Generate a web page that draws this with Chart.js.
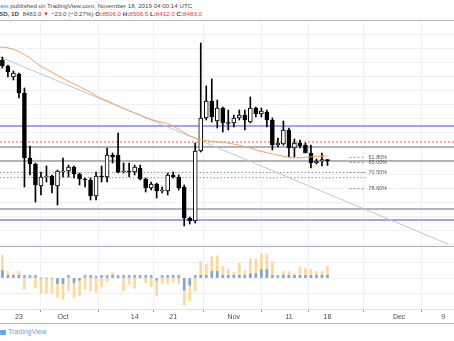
<!DOCTYPE html>
<html>
<head>
<meta charset="utf-8">
<script src="https://cdn.jsdelivr.net/npm/chart.js@4.4.1/dist/chart.umd.min.js"></script>
<style>
    body { margin: 0; background: #fff; width: 454px; height: 341px; overflow: hidden; position: relative; font-family: "Liberation Sans", "DejaVu Sans", sans-serif; }
    .hdr { position: absolute; left: 0; white-space: nowrap; font-size: 6.2px; color: #4a4a4a; line-height: 8px; }
    #hdr1 { top: 2px; }
    #hdr2 { top: 10px; left: -1px; }
    .blue { color: #2196f3; }
    .red { color: #e53935; }
    .line { position: absolute; left: 0; width: 454px; }
    canvas { position: absolute; left: 0; }
    #main { top: 21px; }
    #osc { top: 247px; }
    #logo { position: absolute; left: 0; top: 328px; font-size: 7px; color: #5ea9e6; white-space: nowrap; }
    #logo i { display: inline-block; width: 6px; height: 5px; background: #5ea9e6; border-radius: 1px; margin-right: 2px; vertical-align: -1px; }
</style>
</head>
<body>
<div class="hdr" id="hdr1"><span class="blue">ate</span> published on TradingView.com, November 18, 2019 04:00:14 UTC</div>
<div class="hdr" id="hdr2"></div>
<div class="line" style="top:20px;height:1px;background:#b2b5be"></div>
<canvas id="main" width="454" height="225"></canvas>
<div class="line" style="top:246px;height:1px;background:#a8abb3"></div>
<canvas id="osc" width="454" height="76"></canvas>
<div class="line" style="top:323px;height:1px;background:#b2b5be"></div>
<div id="logo"><i></i>TradingView</div>
<script>
// daily candles, Sep 20 .. Nov 18 2019
const dates = [
    '2019-09-20','2019-09-21','2019-09-22','2019-09-23','2019-09-24','2019-09-25','2019-09-26','2019-09-27','2019-09-28','2019-09-29','2019-09-30',
    '2019-10-01','2019-10-02','2019-10-03','2019-10-04','2019-10-05','2019-10-06','2019-10-07','2019-10-08','2019-10-09','2019-10-10',
    '2019-10-11','2019-10-12','2019-10-13','2019-10-14','2019-10-15','2019-10-16','2019-10-17','2019-10-18','2019-10-19','2019-10-20',
    '2019-10-21','2019-10-22','2019-10-23','2019-10-24','2019-10-25','2019-10-26','2019-10-27','2019-10-28','2019-10-29','2019-10-30','2019-10-31',
    '2019-11-01','2019-11-02','2019-11-03','2019-11-04','2019-11-05','2019-11-06','2019-11-07','2019-11-08','2019-11-09','2019-11-10',
    '2019-11-11','2019-11-12','2019-11-13','2019-11-14','2019-11-15','2019-11-16','2019-11-17','2019-11-18'
];
const opens = [10099, 10003, 9827, 9875, 9571, 8531, 8435, 8083, 8227, 8243, 8083,
    8307, 8323, 8387, 8275, 8195, 8179, 7923, 8243, 8227, 8579,
    8579, 8307, 8323, 8307, 8371, 8195, 8051, 8115, 8003, 8003,
    8259, 8227, 8067, 7571, 7523, 8643, 9171, 9443, 9123, 9331, 9091,
    9091, 9171, 9219, 9107, 9331, 9235, 9267, 9139, 8739, 8755,
    8979, 8691, 8771, 8739, 8611, 8451, 8483, 8506];
const highs = [10147, 10019, 9923, 9891, 9651, 8723, 8451, 8307, 8403, 8259, 8339,
    8531, 8419, 8403, 8291, 8211, 8211, 8307, 8403, 8691, 8611,
    8931, 8451, 8451, 8419, 8419, 8211, 8147, 8131, 8067, 8291,
    8307, 8259, 8099, 7587, 8771, 10371, 9683, 9795, 9459, 9347, 9299,
    9219, 9299, 9299, 9507, 9347, 9331, 9299, 9171, 8851, 9123,
    9011, 8835, 8819, 8771, 8739, 8515, 8611, 8506.5];
const lows = [9971, 9827, 9779, 9491, 8067, 8259, 7827, 7939, 8147, 7971, 7779,
    8227, 8227, 8211, 8099, 8067, 7859, 7859, 8147, 8147, 8451,
    8291, 8291, 8227, 8259, 8179, 7987, 8019, 7891, 7971, 7939,
    8211, 8019, 7443, 7475, 7491, 8627, 9139, 9107, 9011, 8947, 8979,
    9027, 9139, 8979, 9091, 9187, 9187, 9027, 8659, 8707, 8739,
    8547, 8547, 8691, 8611, 8371, 8435, 8403, 8412];
const closes = [10003, 9907, 9891, 9571, 8531, 8435, 8099, 8227, 8243, 8099, 8323,
    8323, 8387, 8275, 8195, 8179, 7923, 8243, 8227, 8579, 8547,
    8307, 8323, 8307, 8387, 8195, 8051, 8115, 8003, 8019, 8259,
    8227, 8051, 7571, 7523, 8643, 9171, 9443, 9187, 9331, 9091, 9083,
    9171, 9219, 9139, 9331, 9235, 9283, 9139, 8739, 8771, 8979,
    8691, 8771, 8723, 8611, 8451, 8483, 8506, 8483];

// moving average, starts one day before the first candle
const maStart = '2019-09-19';
const maValues = [10310, 10304, 10294, 10269, 10235, 10185, 10131, 10061, 9995, 9950, 9904, 9851,
    9803, 9758, 9715, 9670, 9627, 9582, 9528, 9481, 9446, 9406,
    9363, 9324, 9289, 9254, 9219, 9182, 9149, 9123, 9101, 9083,
    9043, 8992, 8939, 8886, 8851, 8819, 8809, 8800, 8792, 8781, 8768,
    8755, 8734, 8712, 8689, 8662, 8637, 8616, 8597, 8577, 8560,
    8542, 8533, 8534, 8541, 8549, 8557, 8560, 8563];

// drawn trend line (two anchors)
const trendDates = ['2019-09-19', '2019-12-10'];
const trendValues = [10170, 7150];

// horizontal levels
const blueLevels = [9043, 7539];
const grayLevels = [8707, 8483, 7715];
const redLevels = [8787];
const dottedLevels = [8300, 8216];
const fibLabels = ['61.80%', '65.00%', '70.50%', '78.60%'];
const fibLevels = [8542, 8456, 8300, 8040];
const fibFrom = '2019-11-22';
const fibTo = '2019-11-25';

// lower pane oscillator (two series)
const oscOrange = [70, 20, 13, 20, -35, 0, -30, -47, -47, -47, -60,
    -65, -40, -60, -54, -35, -40, -44, -27, -12, 16,
    0, -39, -19, -32, 0, -14, -27, -55, -17, -18,
    -12, -17, -84, -70, -39, 50, 43, 66, 68, 36, 26,
    18, 45, 23, 60, 58, 73, 73, 50, 0, 20,
    20, 13, 35, 30, 26, 20, 20, 36];
const oscBlue = [23, 8, 8, 8, 8, 8, 8, 0, 0, 0, -17,
    -17, 8, -15, -7, 8, 8, 5, 8, 8, 8,
    8, 8, 8, 8, 8, 8, 8, -7, 8, 8,
    8, 8, -37, -22, 8, 8, 8, 20, 20, 8, 8,
    8, 8, 8, 13, 13, 26, 26, 8, 8, 8,
    8, 8, 8, 8, 8, 8, 8, 8];

// x axis labels
const tickDates = ['2019-09-23', '2019-10-01', '2019-10-14', '2019-10-21', '2019-11-01', '2019-11-11', '2019-11-18', '2019-12-01', '2019-12-09'];
const tickLabels = ['23', 'Oct', '14', '21', 'Nov', '11', '18', 'Dec', '9'];

const BASE = Date.UTC(2019, 9, 1);
const dayOf = d => (Date.parse(d + 'T00:00:00Z') - BASE) / 864e5;
const PX_PER_DAY = 5.51;
const X_MIN = -63 / PX_PER_DAY;
const X_MAX = 391 / PX_PER_DAY;
const GRID = '#eef1f7';

const last = closes.length - 1;
const chg = closes[last] - closes[last - 1];
document.getElementById('hdr2').innerHTML =
    `<b>SD, 1D</b>&nbsp; ${closes[last].toFixed(1)} <span class="red">▼</span> ${chg < 0 ? '−' : '+'}${Math.abs(chg).toFixed(1)} (${chg < 0 ? '−' : '+'}${Math.abs(chg / closes[last - 1] * 100).toFixed(2)}%) ` +
    `<b>O:</b><span class="red">${opens[last].toFixed(1)}</span> <b>H:</b><span class="red">${highs[last].toFixed(1)}</span> ` +
    `<b>L:</b><span class="red">${lows[last].toFixed(1)}</span> <b>C:</b><span class="red">${closes[last].toFixed(1)}</span>`;

function hLine(y, from, to, color, width, dash) {
    return {
        type: 'line',
        data: [{ x: from, y }, { x: to, y }],
        borderColor: color,
        borderWidth: width,
        borderDash: dash || [],
        pointRadius: 0,
        order: 5
    };
}

const xs = dates.map(dayOf);
const fx0 = dayOf(fibFrom), fx1 = dayOf(fibTo) - 0.1;

const datasets = [
    {
        type: 'bar',
        data: xs.map((x, i) => ({ x, y: [lows[i], highs[i]] })),
        backgroundColor: '#000',
        barThickness: 1,
        grouped: false,
        minBarLength: 1,
        order: 3
    },
    {
        type: 'bar',
        data: xs.map((x, i) => ({ x, y: [opens[i], closes[i]] })),
        backgroundColor: xs.map((x, i) => closes[i] < opens[i] ? '#000' : '#fff'),
        borderColor: '#000',
        borderWidth: 1,
        borderSkipped: false,
        barThickness: 4,
        grouped: false,
        minBarLength: 1,
        order: 2
    },
    {
        type: 'line',
        data: maValues.map((v, i) => ({ x: dayOf(maStart) + i, y: v })),
        borderColor: '#f5a25d',
        borderWidth: 1,
        pointRadius: 0,
        order: 1
    },
    {
        type: 'line',
        data: trendDates.map((d, i) => ({ x: dayOf(d), y: trendValues[i] })),
        borderColor: '#c4c6cc',
        borderWidth: 1,
        pointRadius: 0,
        order: 4
    }
];
blueLevels.forEach(v => datasets.push(hLine(v, X_MIN, X_MAX, '#a3a3f2', 2)));
grayLevels.forEach(v => datasets.push(hLine(v, X_MIN, X_MAX, '#9a9ca3', 1.3)));
redLevels.forEach(v => datasets.push(hLine(v, X_MIN, X_MAX, '#ef5350', 1, [2, 2])));
dottedLevels.forEach(v => datasets.push(hLine(v, X_MIN, fx1, '#8e9096', 1, [1.5, 2])));
fibLevels.forEach(v => datasets.push(hLine(v, fx0, fx1, '#8e9096', 1, [2, 2])));

// fib level labels
const fibText = {
    id: 'fibText',
    afterDatasetsDraw(chart) {
        const { ctx, scales } = chart;
        ctx.save();
        ctx.font = '5.5px "Liberation Sans", sans-serif';
        ctx.fillStyle = '#555';
        ctx.textBaseline = 'middle';
        fibLevels.forEach((v, i) => {
            ctx.fillText(fibLabels[i], scales.x.getPixelForValue(fx1) + 3, scales.y.getPixelForValue(v));
        });
        ctx.restore();
    }
};

new Chart(document.getElementById('main'), {
    type: 'bar',
    data: { datasets },
    options: {
        responsive: false,
        animation: false,
        layout: { padding: 0 },
        plugins: { legend: { display: false }, tooltip: { enabled: false } },
        scales: {
            x: {
                type: 'linear', min: X_MIN, max: X_MAX, offset: false,
                afterBuildTicks: ax => { ax.ticks = tickDates.map(d => ({ value: dayOf(d) })); },
                ticks: { display: false },
                grid: { color: GRID, drawTicks: false },
                border: { display: false },
                afterFit: ax => { ax.height = 0; }
            },
            y: {
                min: 7123, max: 10723,
                afterBuildTicks: ax => {
                    const t = [];
                    for (let v = 10510; v > ax.min; v -= 224) t.push({ value: v });
                    ax.ticks = t;
                },
                ticks: { display: false },
                grid: { color: GRID, drawTicks: false },
                border: { display: false },
                afterFit: ax => { ax.width = 0; }
            }
        }
    },
    plugins: [fibText]
});

new Chart(document.getElementById('osc'), {
    type: 'bar',
    data: {
        datasets: [
            {
                data: xs.map((x, i) => ({ x, y: oscOrange[i] })),
                backgroundColor: 'rgba(255, 190, 90, 0.6)',
                barThickness: 2,
                grouped: false,
                order: 2
            },
            {
                data: xs.map((x, i) => ({ x, y: oscBlue[i] })),
                backgroundColor: 'rgba(80, 150, 230, 0.75)',
                barThickness: 2,
                grouped: false,
                order: 1
            }
        ]
    },
    options: {
        responsive: false,
        animation: false,
        layout: { padding: 0 },
        plugins: { legend: { display: false }, tooltip: { enabled: false } },
        scales: {
            x: {
                type: 'linear', min: X_MIN, max: X_MAX, offset: false,
                afterBuildTicks: ax => { ax.ticks = tickDates.map(d => ({ value: dayOf(d) })); },
                ticks: {
                    autoSkip: false, maxRotation: 0, padding: 1,
                    font: { size: 7, family: '"Liberation Sans", sans-serif' },
                    color: '#4a4a4a',
                    callback: (v, i) => tickLabels[i]
                },
                grid: { color: GRID, tickColor: '#9a9ca3', tickLength: 3 },
                border: { color: '#dfe2e8' },
                afterFit: ax => { ax.height = 14; }
            },
            y: {
                min: -95, max: 95,
                afterBuildTicks: ax => { ax.ticks = [-48, 0, 48].map(v => ({ value: v })); },
                ticks: { display: false },
                grid: { color: GRID, drawTicks: false },
                border: { display: false },
                afterFit: ax => { ax.width = 0; }
            }
        }
    }
});
</script>
</body>
</html>
